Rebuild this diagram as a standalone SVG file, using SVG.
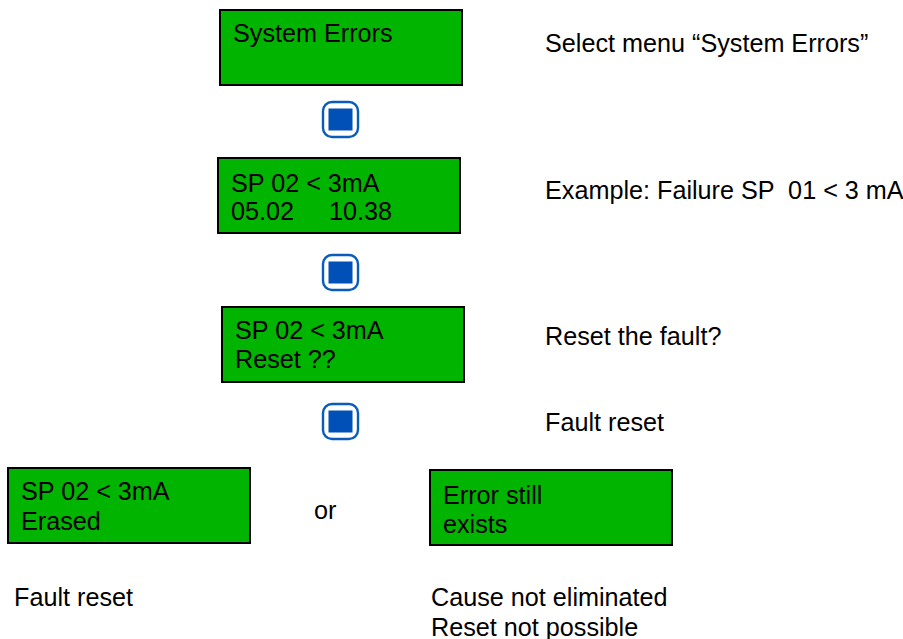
<svg xmlns="http://www.w3.org/2000/svg" width="903" height="639" viewBox="0 0 903 639">
<style>
text{font-family:"Liberation Sans",Arial,sans-serif;font-size:25.2px;fill:#000}
.box{fill:#00b400;stroke:#000;stroke-width:2}
.btnO{fill:#fff;stroke:#0a5cbc;stroke-width:2.4}
.btnI{fill:#0050b8}
</style>
<rect width="903" height="639" fill="#fff"/>
<g id="node-system-errors"><rect class="box" x="220" y="10" width="242" height="75"/><text x="233" y="42">System Errors</text></g>
<g id="button-1"><rect class="btnO" x="323" y="102" width="35" height="35" rx="9"/><rect class="btnI" x="328.500" y="108.500" width="24" height="22"/></g>
<g id="node-failure"><rect class="box" x="218" y="158" width="242" height="75"/><text x="231" y="191.500">SP 02 &lt; 3mA</text><text x="231" y="220" xml:space="preserve">05.02     10.38</text></g>
<g id="button-2"><rect class="btnO" x="323" y="255" width="35" height="35" rx="9"/><rect class="btnI" x="328.500" y="261.500" width="24" height="22"/></g>
<g id="node-reset"><rect class="box" x="222" y="307" width="242" height="75"/><text x="235" y="338.500">SP 02 &lt; 3mA</text><text x="235" y="368">Reset ??</text></g>
<g id="button-3"><rect class="btnO" x="323" y="404" width="35" height="35" rx="9"/><rect class="btnI" x="328.500" y="410.500" width="24" height="22"/></g>
<g id="node-erased"><rect class="box" x="8" y="468" width="242" height="75"/><text x="21" y="500">SP 02 &lt; 3mA</text><text x="21" y="530">Erased</text></g>
<g id="node-still-exists"><rect class="box" x="430" y="470" width="242" height="75"/><text x="443" y="503.500">Error still</text><text x="443" y="533">exists</text></g>
<g id="labels">
<text x="545" y="52">Select menu “System Errors”</text>
<text x="545" y="198.500" xml:space="preserve">Example: Failure SP  01 &lt; 3 mA</text>
<text x="545" y="345">Reset the fault?</text>
<text x="545" y="431">Fault reset</text>
<text x="314" y="519">or</text>
<text x="14" y="606">Fault reset</text>
<text x="431" y="606">Cause not eliminated</text>
<text x="431" y="635.500">Reset not possible</text>
</g>
<g id="connectors"></g>
</svg>
